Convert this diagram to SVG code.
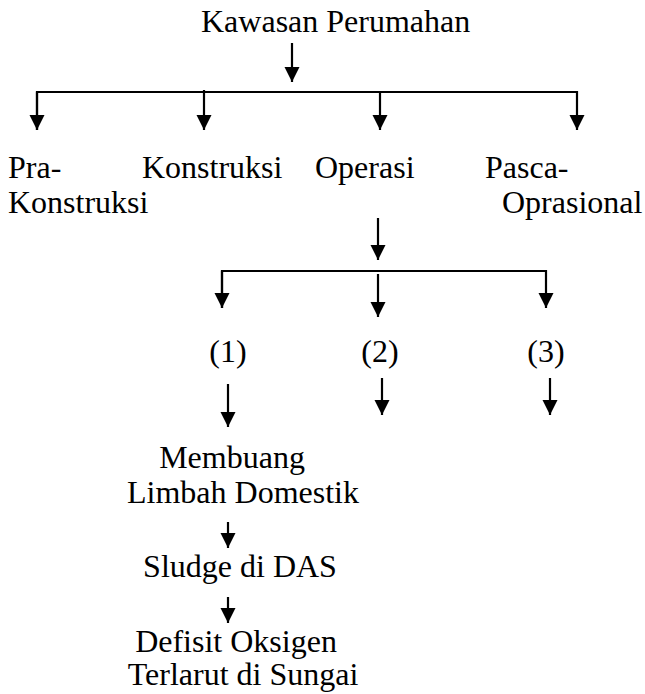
<svg xmlns="http://www.w3.org/2000/svg" width="645" height="694" viewBox="0 0 645 694">
<style>
text{font-family:"Liberation Serif","Times New Roman",serif;font-size:32px;fill:#000}
.c{stroke:#000;stroke-width:2.2;fill:none}
</style>
<defs>
<marker id="ah" markerUnits="userSpaceOnUse" markerWidth="16" markerHeight="16" refX="15" refY="7.5" orient="auto">
<path d="M0,0 L15,7.5 L0,15 z" fill="#000"/>
</marker>
</defs>
<rect width="645" height="694" fill="#fff"/>
<g id="connectors">
<line class="c" x1="292" y1="43" x2="292" y2="82" marker-end="url(#ah)"/>
<polyline class="c" points="37,130 37,92 577,92 577,130" marker-end="url(#ah)"/>
<line class="c" x1="37" y1="92" x2="37" y2="130" marker-end="url(#ah)"/>
<line class="c" x1="204" y1="90" x2="204" y2="130" marker-end="url(#ah)"/>
<line class="c" x1="380" y1="92" x2="380" y2="130" marker-end="url(#ah)"/>
<line class="c" x1="378" y1="218" x2="378" y2="260" marker-end="url(#ah)"/>
<polyline class="c" points="222,308 222,271 546,271 546,308" marker-end="url(#ah)"/>
<line class="c" x1="222" y1="271" x2="222" y2="308" marker-end="url(#ah)"/>
<line class="c" x1="378" y1="274" x2="378" y2="317" marker-end="url(#ah)"/>
<line class="c" x1="228" y1="384" x2="228" y2="427" marker-end="url(#ah)"/>
<line class="c" x1="382" y1="378" x2="382" y2="415" marker-end="url(#ah)"/>
<line class="c" x1="550" y1="378" x2="550" y2="415" marker-end="url(#ah)"/>
<line class="c" x1="228" y1="522" x2="228" y2="548" marker-end="url(#ah)"/>
<line class="c" x1="228" y1="597" x2="228" y2="623" marker-end="url(#ah)"/>
</g>
<g id="kawasan"><text x="201" y="32">Kawasan Perumahan</text></g>
<g id="prakonstruksi"><text x="8" y="178">Pra-</text><text x="8" y="213">Konstruksi</text></g>
<g id="konstruksi"><text x="142" y="178">Konstruksi</text></g>
<g id="operasi"><text x="315" y="178">Operasi</text></g>
<g id="pascaoprasional"><text x="485" y="178">Pasca-</text><text x="502" y="213">Oprasional</text></g>
<g id="n1"><text x="228" y="362" text-anchor="middle">(1)</text></g>
<g id="n2"><text x="380" y="362" text-anchor="middle">(2)</text></g>
<g id="n3"><text x="546" y="362" text-anchor="middle">(3)</text></g>
<g id="membuang"><text x="232" y="468" text-anchor="middle">Membuang</text><text x="243" y="503" text-anchor="middle">Limbah Domestik</text></g>
<g id="sludge"><text x="240" y="577" text-anchor="middle">Sludge di DAS</text></g>
<g id="defisit"><text x="236" y="652" text-anchor="middle">Defisit Oksigen</text><text x="243" y="685" text-anchor="middle">Terlarut di Sungai</text></g>
</svg>
